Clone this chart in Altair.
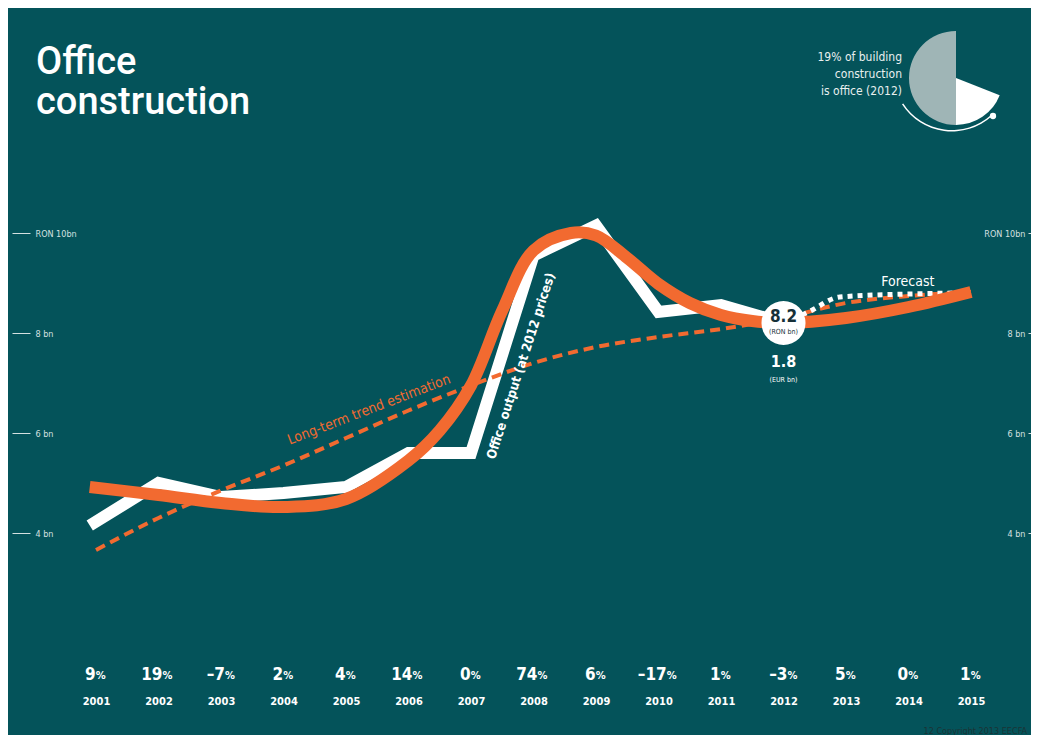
import altair as alt
import pandas as pd

# ---------------- data ----------------
years = list(range(2001, 2016))
growth = ["9", "19", "–7", "2", "4", "14", "0", "74", "6", "–17", "1", "–3", "5", "0", "1"]

output_years = [2000.9, 2002, 2003, 2004, 2005, 2006, 2007, 2008, 2009, 2010, 2011, 2012]
output_values = [4.15, 5.0, 4.72, 4.8, 4.92, 5.6, 5.6, 9.55, 10.15, 8.42, 8.56, 8.2]

forecast_years = [2012, 2012.4, 2012.9, 2014, 2014.75]
forecast_values = [8.2, 8.42, 8.72, 8.78, 8.8]

trend_years = list(range(2001, 2016))
trend_values = [3.66, 4.3, 4.85, 5.35, 5.9, 6.45, 6.95, 7.4, 7.72, 7.92, 8.08, 8.3, 8.6, 8.74, 8.82]

fit_years = [2000.9, 2002, 2003, 2004, 2005, 2006, 2006.5, 2007, 2007.5, 2008, 2008.6,
             2009, 2009.5, 2010, 2010.5, 2011, 2011.5, 2012, 2013, 2014, 2015]
fit_values = [4.92, 4.76, 4.6, 4.52, 4.68, 5.45, 6.05, 6.95, 8.45, 9.65, 10.0,
              9.95, 9.5, 8.98, 8.6, 8.36, 8.24, 8.2, 8.3, 8.52, 8.82]

y_ticks = [4, 6, 8, 10]

pie_parts = ["blank", "office", "other building"]
pie_shares = [31, 19, 50]

# ---------------- style ----------------
BG = "#04535a"
ORANGE = "#f26a30"
WHITE = "#ffffff"
PIE_GREY = "#9fb5b6"
COND = "'Liberation Sans Narrow', 'DejaVu Sans Condensed', 'Open Sans', sans-serif"
TITLE_FONT = "Roboto, 'Open Sans', sans-serif"

W, H = 1023, 727
xscale = alt.Scale(domain=[1999.592, 2015.96], nice=False, zero=False)
yscale = alt.Scale(domain=[-0.04, 14.5], nice=False, zero=False)

x_axis = alt.Axis(
    values=years, format="d", orient="bottom", offset=-40, ticks=False, domain=False,
    grid=False, labelPadding=0, labelBaseline="top", labelColor=WHITE,
    labelFont=COND, labelFontSize=11, labelFontWeight="bold", labelFlush=False,
    labelOverlap=False, title=None)


def X(field="year"):
    return alt.X(f"{field}:Q", scale=xscale, axis=x_axis, title=None)


def Y():
    return alt.Y("value:Q", scale=yscale, axis=None)


out_df = pd.DataFrame({"year": output_years, "value": output_values})
fc_df = pd.DataFrame({"year": forecast_years, "value": forecast_values})
tr_df = pd.DataFrame({"year": trend_years, "value": trend_values})
fit_df = pd.DataFrame({"year": fit_years, "value": fit_values})
gr_df = pd.DataFrame({"year": years, "num": growth})
dummy = pd.DataFrame({"a": [0]})

# white office output line, with left axis
output_line = alt.Chart(out_df).mark_line(
    color=WHITE, strokeWidth=12, strokeJoin="miter", strokeCap="butt"
).encode(
    x=X(),
    y=alt.Y("value:Q", scale=yscale, axis=alt.Axis(
        values=y_ticks, orient="left", offset=-22, tickSize=18, tickColor="#d5e0e0",
        tickWidth=1, domain=False, grid=False, labelAlign="left", labelPadding=-23,
        labelBaseline="middle", labelColor="#d5e0e0", labelFont=COND, labelFontSize=9,
        labelExpr="datum.value == 10 ? 'RON 10bn' : datum.value + ' bn'", title=None)),
)

forecast_line = alt.Chart(fc_df).mark_line(
    color=WHITE, strokeWidth=5, strokeDash=[5, 5], interpolate="monotone"
).encode(x=X(), y=Y())

trend_line = alt.Chart(tr_df).mark_line(
    color=ORANGE, strokeWidth=4, strokeDash=[10, 6], interpolate="monotone"
).encode(x=X(), y=Y())

# orange fitted curve, with the right-hand axis
fit_line = alt.Chart(fit_df).mark_line(
    color=ORANGE, strokeWidth=12, interpolate="catmull-rom", strokeCap="butt"
).encode(
    x=X(),
    y=alt.Y("value:Q", scale=yscale, axis=alt.Axis(
        values=y_ticks, orient="right", offset=-3, tickSize=3, tickColor="#d5e0e0",
        domain=False, grid=False, labelAlign="right", labelPadding=-6,
        labelBaseline="middle", labelColor="#d5e0e0", labelFont=COND, labelFontSize=9,
        labelExpr="datum.value == 10 ? 'RON 10bn' : datum.value + ' bn'", title=None)),
)

# 2012 marker circle and annotation
last_df = pd.DataFrame({"year": [output_years[-1]], "value": [output_values[-1]],
                        "lbl": [f"{output_values[-1]:.1f}"], "eur": ["1.8"]})
circle = alt.Chart(last_df).mark_point(
    filled=True, shape="circle", size=1940, color=WHITE, opacity=1
).encode(x=X(), y=Y())
circle_val = alt.Chart(last_df).mark_text(
    font=COND, fontSize=17, fontWeight="bold", color="#163038", dy=-6
).encode(x=X(), y=Y(), text="lbl:N")
circle_unit = alt.Chart(last_df).mark_text(
    font=COND, fontSize=7, color="#163038", dy=9
).encode(x=X(), y=Y(), text=alt.value("(RON bn)"))
eur_val = alt.Chart(last_df).mark_text(
    font=COND, fontSize=16, fontWeight="bold", color=WHITE, dy=39
).encode(x=X(), y=Y(), text="eur:N")
eur_unit = alt.Chart(last_df).mark_text(
    font=COND, fontSize=7, color=WHITE, dy=57
).encode(x=X(), y=Y(), text=alt.value("(EUR bn)"))

# growth percentages row
gr_base = alt.Chart(gr_df).transform_calculate(
    xj="datum.year + (length(datum.num) * 8.5 - 9) / 125"
)
gr_num = gr_base.mark_text(
    font=COND, fontSize=17, fontWeight="bold", color=WHITE, align="right", baseline="middle"
).encode(x=X("xj"), y=alt.value(667), text="num:N")
gr_pct = gr_base.mark_text(
    font=COND, fontSize=11, fontWeight="bold", color=WHITE, align="left", baseline="middle", dy=1
).encode(x=X("xj"), y=alt.value(667), text=alt.value("%"))

# line labels
lbl_df = pd.DataFrame({
    "year": [2005.37, 2007.8, 2013.99],
    "value": [6.46, 7.34, 9.02],
    "txt": ["Long-term trend estimation", "Office output (at 2012 prices)", "Forecast"],
})
trend_lbl = alt.Chart(lbl_df.iloc[[0]]).mark_text(
    font=COND, fontSize=14, color=ORANGE, angle=339
).encode(x=X(), y=Y(), text="txt:N")
output_lbl = alt.Chart(lbl_df.iloc[[1]]).mark_text(
    font=COND, fontSize=13, fontWeight="bold", color=WHITE, angle=288
).encode(x=X(), y=Y(), text="txt:N")
fc_lbl = alt.Chart(lbl_df.iloc[[2]]).mark_text(
    font=COND, fontSize=14, color=WHITE
).encode(x=X(), y=Y(), text="txt:N")

# title
title1 = alt.Chart(dummy).mark_text(
    font=TITLE_FONT, fontSize=38, fontWeight=500, color=WHITE, align="left", baseline="alphabetic"
).encode(x=alt.value(28), y=alt.value(66), text=alt.value("Office"))
title2 = alt.Chart(dummy).mark_text(
    font=TITLE_FONT, fontSize=38, fontWeight=500, color=WHITE, align="left", baseline="alphabetic"
).encode(x=alt.value(28), y=alt.value(106), text=alt.value("construction"))

# pie inset
pie_df = pd.DataFrame({"part": pie_parts, "share": pie_shares, "ord": [0, 1, 2]})
pie = alt.Chart(pie_df).mark_arc(radius=47, strokeWidth=0).encode(
    theta=alt.Theta("share:Q", stack=True),
    order=alt.Order("ord:Q"),
    color=alt.Color("part:N", scale=alt.Scale(domain=pie_parts,
                    range=["rgba(0,0,0,0)", WHITE, PIE_GREY]), legend=None),
    x=alt.value(948), y=alt.value(70),
)
ring = alt.Chart(dummy).mark_arc(
    radius=58, radius2=59.5, theta=2.41, theta2=4.14, color=WHITE
).encode(x=alt.value(944), y=alt.value(64))
ring_dot = alt.Chart(dummy).mark_point(
    filled=True, shape="circle", size=40, color=WHITE, opacity=1
).encode(x=alt.value(985), y=alt.value(108))
pie_txt = alt.Chart(pd.DataFrame({"t": ["19% of building", "construction", "is office (2012)"],
                                   "i": [0, 1, 2]})).transform_calculate(
    py="49 + datum.i * 17"
).mark_text(font=COND, fontSize=12, color="#e8efef", align="right", baseline="middle").encode(
    x=alt.value(894), y=alt.Y("py:Q", scale=None, axis=None), text="t:N")

copyright_txt = alt.Chart(dummy).mark_text(
    font=COND, fontSize=9, color="#1b3336", align="right", baseline="middle"
).encode(x=alt.value(1019), y=alt.value(723), text=alt.value("12     Copyright 2013 EECFA"))

chart = alt.layer(
    output_line, trend_line, forecast_line, fit_line,
    circle, circle_val, circle_unit, eur_val, eur_unit,
    gr_num, gr_pct, trend_lbl, output_lbl, fc_lbl,
    title1, title2, pie, ring, ring_dot, pie_txt, copyright_txt,
).resolve_axis(y="independent").properties(
    width=W, height=H, background=BG, padding=0,
    autosize=alt.AutoSizeParams(type="none"),
).configure_view(strokeWidth=0, fill=BG)

chart.save("out.html", embed_options={"renderer": "svg", "actions": False})
